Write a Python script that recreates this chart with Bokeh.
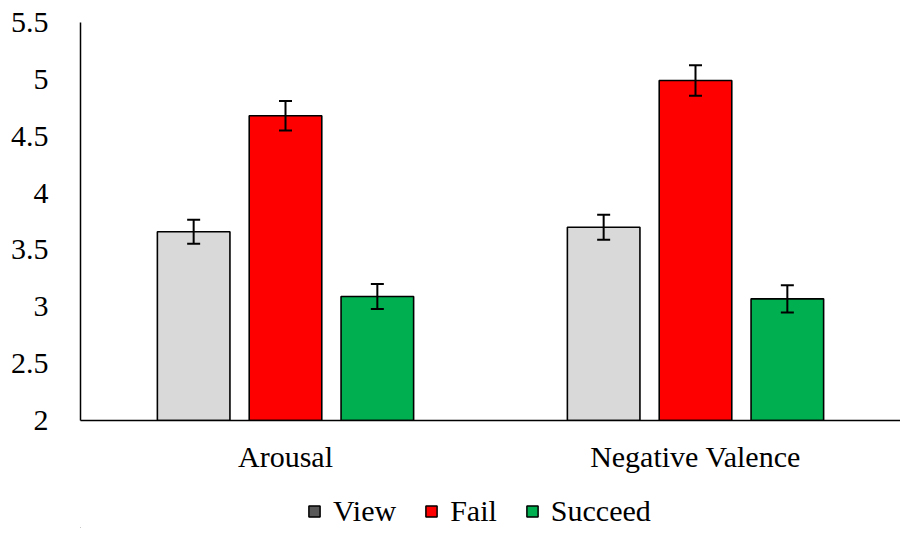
from bokeh.plotting import figure
from bokeh.layouts import column
from bokeh.models import ColumnDataSource, FactorRange, Legend, LegendItem, Whisker, TeeHead, FixedTicker
from bokeh.transform import dodge
from bokeh.embed import file_html
from bokeh.resources import INLINE

categories = ["Arousal", "Negative Valence"]
series = ["View", "Fail", "Succeed"]
view_vals = [3.66, 3.70]
fail_vals = [4.68, 4.99]
succeed_vals = [3.09, 3.07]
view_err = [0.105, 0.11]
fail_err = [0.13, 0.135]
succeed_err = [0.11, 0.12]
bar_colors = ["#D9D9D9", "#FF0000", "#00B050"]
legend_colors = ["#595959", "#FF0000", "#00B050"]
y_ticks = [2, 2.5, 3, 3.5, 4, 4.5, 5, 5.5]

FONT = "Liberation Serif"
FS = "30px"

p = figure(x_range=FactorRange(*categories), y_range=(2, 5.5),
           width=900, height=490, output_backend="svg", toolbar_location=None,
           min_border_left=80, min_border_right=0, min_border_top=22, min_border_bottom=70)
p.x_range.range_padding = 0
p.outline_line_color = None
p.grid.grid_line_color = None
p.background_fill_color = "white"

vals = [view_vals, fail_vals, succeed_vals]
errs = [view_err, fail_err, succeed_err]
offsets = [-0.224, 0.0, 0.224]

for s, v, e, c, off in zip(series, vals, errs, bar_colors, offsets):
    src = ColumnDataSource(dict(cat=categories, val=v,
                                up=[a + b for a, b in zip(v, e)],
                                lo=[a - b for a, b in zip(v, e)]))
    p.vbar(x=dodge("cat", off, range=p.x_range), top="val", bottom=2, width=0.177,
           source=src, fill_color=c, line_color="black", line_width=1.6)
    w = Whisker(base=dodge("cat", off, range=p.x_range), upper="up", lower="lo", source=src,
                line_color="black", line_width=2, level="overlay",
                upper_head=TeeHead(size=13, line_color="black", line_width=2),
                lower_head=TeeHead(size=13, line_color="black", line_width=2))
    p.add_layout(w)

p.yaxis.ticker = FixedTicker(ticks=y_ticks)
for ax in [p.xaxis, p.yaxis]:
    ax.major_tick_line_color = None
    ax.minor_tick_line_color = None
    ax.axis_line_color = "black"
    ax.axis_line_width = 1.5
    ax.major_label_text_font = FONT
    ax.major_label_text_font_size = FS
    ax.major_label_text_color = "black"
p.yaxis.major_label_standoff = 26
p.xaxis.major_label_standoff = 13

# legend strip (its frame is aligned with the main frame in the column)
lg = figure(x_range=(0, 1), y_range=(0, 1), width=900, height=38,
            output_backend="svg", toolbar_location=None,
            min_border=0, x_axis_type=None, y_axis_type=None)
lg.outline_line_color = None
lg.grid.grid_line_color = None
items = []
for s, lc in zip(series, legend_colors):
    lsrc = ColumnDataSource(dict(x=[-5.0], top=[-5.0]))
    r = lg.vbar(x="x", top="top", bottom=-6, width=0.1, source=lsrc,
                fill_color=lc, line_color="black", line_width=1.5)
    items.append(LegendItem(label=s, renderers=[r]))
legend = Legend(items=items, orientation="horizontal", location=(227, 0),
                label_text_font=FONT, label_text_font_size=FS, label_text_color="black",
                glyph_width=14, glyph_height=14, label_standoff=12, spacing=28,
                border_line_color=None, background_fill_alpha=0,
                padding=0, margin=0)
lg.add_layout(legend, "center")

layout = column(p, lg, spacing=0)
open("out.html", "w").write(file_html(layout, INLINE))
